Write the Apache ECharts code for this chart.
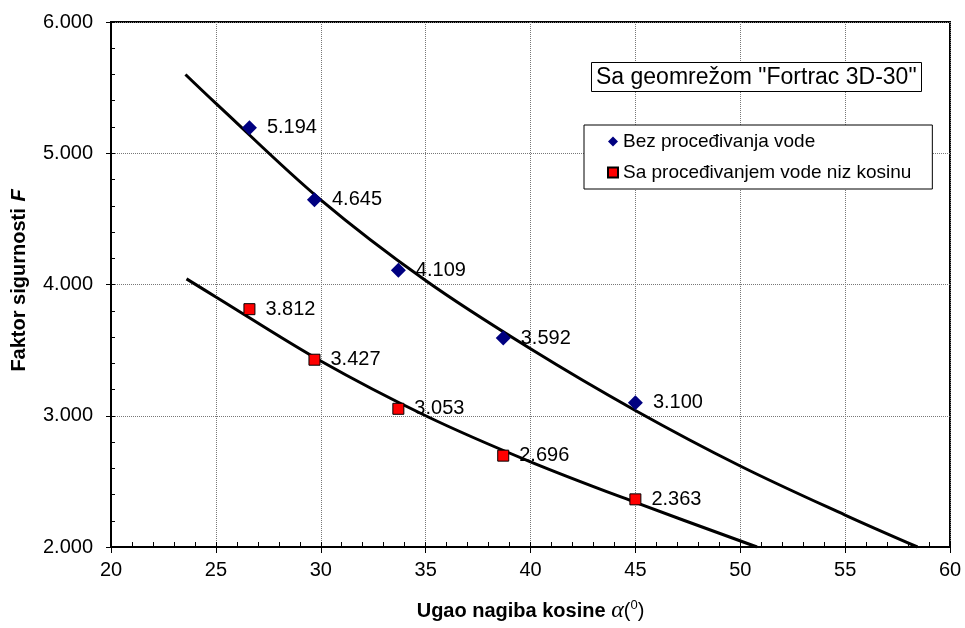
<!DOCTYPE html>
<html><head><meta charset="utf-8">
<script src="https://cdn.jsdelivr.net/npm/echarts@6/dist/echarts.min.js"></script>
<style>html,body{margin:0;padding:0;background:#fff}#c{width:965px;height:628px}</style>
</head><body><div id="c"></div>
<script>
const angles = [26.6, 29.7, 33.7, 38.7, 45.0];
const bezProcedjivanja = [5.194, 4.645, 4.109, 3.592, 3.100];
const saProcedjivanjem = [3.812, 3.427, 3.053, 2.696, 2.363];
const trendUpperX = [23.55, 25, 30, 35, 40, 45, 50, 55, 58.45];
const trendUpperY = [5.60, 5.38, 4.645, 4.03, 3.51, 3.04, 2.617, 2.243, 2.00];
const trendLowerX = [23.6, 25, 30, 35, 40, 45, 50.8];
const trendLowerY = [4.043, 3.905, 3.417, 3.0, 2.649, 2.34, 2.0];
const xTicks = [20, 25, 30, 35, 40, 45, 50, 55, 60];
const yTicks = [2, 3, 4, 5, 6];
const seriesNames = ['Bez proceđivanja vode', 'Sa proceđivanjem vode niz kosinu'];
const titleText = 'Sa geomrežom "Fortrac 3D-30"';
const xTitle = 'Ugao nagiba kosine ';
const yTitle = 'Faktor sigurnosti';

const FF = '"Liberation Sans", Arial, sans-serif';
const zip = (xs, ys) => xs.map((x, i) => [x, ys[i]]);

const chart = echarts.init(document.getElementById('c'), null, {renderer: 'canvas'});
const xStep = xTicks[1] - xTicks[0];
const yStep = yTicks[1] - yTicks[0];
const xMin = xTicks[0], xMax = xTicks[xTicks.length - 1];
const yMin = yTicks[0], yMax = yTicks[yTicks.length - 1];

const labelCfg = {
  show: true, position: 'right', distance: 10,
  fontFamily: FF, fontSize: 20, color: '#000',
  formatter: p => p.value[1].toFixed(3)
};

chart.setOption({
  backgroundColor: '#fff',
  animation: false,
  title: {
    text: titleText, left: 591, top: 62,
    padding: [4, 5, 3, 5],
    borderColor: '#000', borderWidth: 1, backgroundColor: '#fff',
    textStyle: {fontFamily: FF, fontSize: 23, fontWeight: 'normal', color: '#000'}
  },
  legend: {
    orient: 'vertical', left: 584, top: 125,
    padding: [7, 21, 7, 23], itemGap: 12, itemWidth: 10, itemHeight: 10,
    borderColor: '#000', borderWidth: 1, backgroundColor: '#fff',
    textStyle: {fontFamily: FF, fontSize: 19, color: '#000'},
    data: [{name: seriesNames[0], icon: 'diamond'}, {name: seriesNames[1], icon: 'rect'}]
  },
  grid: {left: 111, top: 22, width: 839, height: 528, show: true, borderColor: '#000', borderWidth: 2, backgroundColor: 'transparent'},
  xAxis: [{
    type: 'value', min: xMin, max: xMax, interval: xStep, position: 'bottom',
    axisLine: {show: true, onZero: false, lineStyle: {color: '#000', width: 2}},
    axisTick: {show: true, inside: false, length: 6, lineStyle: {color: '#000', width: 1}},
    axisLabel: {fontFamily: FF, fontSize: 20, color: '#000', margin: 13},
    splitLine: {show: true, lineStyle: {color: '#777', type: 'dotted', width: 1}},
    name: '{a|' + xTitle + '}{b|α}{c|(}{d|0}{c|)}',
    nameLocation: 'middle', nameGap: 52,
    nameTextStyle: {rich: {
      a: {fontFamily: FF, fontSize: 20, fontWeight: 'bold', color: '#000'},
      b: {fontFamily: '"Liberation Serif", serif', fontSize: 24, fontStyle: 'italic', color: '#000'},
      c: {fontFamily: FF, fontSize: 20, color: '#000'},
      d: {fontFamily: FF, fontSize: 13, color: '#000', verticalAlign: 'top'}
    }}
  }, {
    type: 'value', min: xMin, max: xMax, interval: 1, position: 'bottom',
    axisLine: {show: true, onZero: false, lineStyle: {color: 'rgba(0,0,0,0)', width: 0}},
    axisLabel: {show: false}, splitLine: {show: false},
    axisTick: {show: true, inside: true, length: 5, lineStyle: {color: '#000', width: 1}}
  }],
  yAxis: [{
    type: 'value', min: yMin, max: yMax, interval: yStep, position: 'left',
    axisLine: {show: true, onZero: false, lineStyle: {color: '#000', width: 2}},
    axisTick: {show: true, inside: false, length: 5, lineStyle: {color: '#000', width: 1}},
    axisLabel: {fontFamily: FF, fontSize: 20, color: '#000', margin: 18, formatter: v => v.toFixed(3)},
    splitLine: {show: true, lineStyle: {color: '#777', type: 'dotted', width: 1}},
    name: '{a|' + yTitle + '}  {b|F}',
    nameLocation: 'middle', nameGap: 82, nameRotate: 90,
    nameTextStyle: {padding: [0, 0, 0, 8], rich: {
      a: {fontFamily: FF, fontSize: 20, fontWeight: 'bold', color: '#000'},
      b: {fontFamily: FF, fontSize: 20, fontWeight: 'bold', fontStyle: 'italic', color: '#000'}
    }}
  }, {
    type: 'value', min: yMin, max: yMax, interval: 0.2, position: 'left',
    axisLine: {show: true, onZero: false, lineStyle: {color: 'rgba(0,0,0,0)', width: 0}},
    axisLabel: {show: false}, splitLine: {show: false},
    axisTick: {show: true, inside: true, length: 4, lineStyle: {color: '#000', width: 1}}
  }],
  series: [{
    name: 'trend1', type: 'line', data: zip(trendUpperX, trendUpperY),
    smooth: 0.35, showSymbol: false, silent: true, z: 1,
    lineStyle: {color: '#000', width: 3}
  }, {
    name: 'trend2', type: 'line', data: zip(trendLowerX, trendLowerY),
    smooth: 0.35, showSymbol: false, silent: true, z: 1,
    lineStyle: {color: '#000', width: 3}
  }, {
    name: seriesNames[0], type: 'scatter', data: zip(angles, bezProcedjivanja),
    symbol: 'diamond', symbolSize: 15, z: 3,
    itemStyle: {color: '#000080', opacity: 1}, label: labelCfg
  }, {
    name: seriesNames[1], type: 'scatter', data: zip(angles, saProcedjivanjem),
    symbol: 'rect', symbolSize: 11, z: 3,
    itemStyle: {color: '#ff0000', borderColor: '#000', borderWidth: 1, opacity: 1}, label: labelCfg
  }]
});
</script></body></html>
